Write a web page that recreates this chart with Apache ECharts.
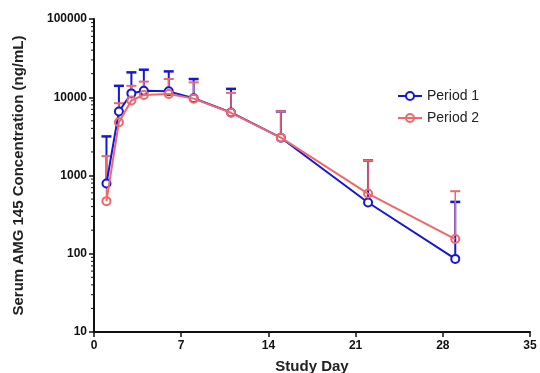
<!DOCTYPE html>
<html><head><meta charset="utf-8">
<script src="https://cdn.jsdelivr.net/npm/echarts@6/dist/echarts.min.js"></script>
<style>html,body{margin:0;padding:0;background:#fff}#c{width:540px;height:373px}</style>
</head><body><div id="c"></div>
<script>
const days = [1, 2, 3, 4, 6, 8, 11, 15, 22, 29];
const p1Mean = [790, 6570, 11200, 12100, 11900, 9700, 6400, 3040, 452, 86];
const p1Upper = [3160, 14000, 20800, 22500, 21400, 17100, 12800, 6600, 1560, 460];
const p2Mean = [470, 4800, 9080, 10700, 11000, 9600, 6330, 3040, 588, 154];
const p2Upper = [1770, 8390, 14000, 15850, 17100, 15500, 11370, 6640, 1563, 630];
const xTicks = [0, 7, 14, 21, 28, 35];
const yMinorVals = [20,30,40,50,60,70,80,90,200,300,400,500,600,700,800,900,2000,3000,4000,5000,6000,7000,8000,9000,20000,30000,40000,50000,60000,70000,80000,90000];

const blue = '#1616d8';
const red = '#f06868';
const font = 'Liberation Sans, Arial, sans-serif';

function errData(m, u) { return days.map((d, i) => [d, m[i], u[i]]); }
function errSeries(name, m, u, color, w) {
  return {
    type: 'custom', name: name + ' err', silent: true, z: 3,
    data: errData(m, u),
    renderItem: function (params, api) {
      const p = api.coord([api.value(0), api.value(1)]);
      const q = api.coord([api.value(0), api.value(2)]);
      return {
        type: 'group', children: [
          { type: 'line', shape: { x1: p[0], y1: p[1] - 4, x2: q[0], y2: q[1] }, style: { stroke: color, lineWidth: w } },
          { type: 'line', shape: { x1: q[0] - 5, y1: q[1], x2: q[0] + 5, y2: q[1] }, style: { stroke: color, lineWidth: w + 0.5 } }
        ]
      };
    }
  };
}

const chart = echarts.init(document.getElementById('c'));
chart.setOption({
  animation: false,
  grid: { left: 94, right: 10, top: 19, bottom: 41, containLabel: false, outerBoundsMode: 'none' },
  legend: {
    left: 392, top: 84, orient: 'vertical', itemGap: 8, itemWidth: 24, itemHeight: 10,
    textStyle: { fontFamily: font, fontSize: 14, color: '#222' },
    data: ['Period 1', 'Period 2']
  },
  xAxis: {
    type: 'value', min: 0, max: 35, interval: 7,
    name: 'Study Day', nameLocation: 'middle', nameGap: 27,
    nameTextStyle: { fontFamily: font, fontSize: 15, fontWeight: 'bold', color: '#222' },
    axisLine: { onZero: false, lineStyle: { color: '#111', width: 2 } },
    axisTick: { length: 5, lineStyle: { color: '#111', width: 1.5 } },
    axisLabel: { fontFamily: font, fontSize: 12, fontWeight: 'bold', color: '#111', margin: 8,
      customValues: xTicks },
    splitLine: { show: false }
  },
  yAxis: {
    type: 'log', logBase: 10, min: 10, max: 100000,
    name: 'Serum AMG 145 Concentration (ng/mL)', nameLocation: 'middle', nameGap: 68, nameRotate: 90,
    nameTextStyle: { fontFamily: font, fontSize: 15, fontWeight: 'bold', color: '#222' },
    axisLine: { show: true, lineStyle: { color: '#111', width: 2 } },
    axisTick: { show: true, length: 5, lineStyle: { color: '#111', width: 1.5 } },
    axisLabel: { fontFamily: font, fontSize: 12, fontWeight: 'bold', color: '#111', margin: 7,
      formatter: v => String(Math.round(v)) },
    splitLine: { show: false }
  },
  series: [
    {
      type: 'custom', name: 'minor', silent: true, z: 1,
      data: yMinorVals.map(v => [0, v]),
      renderItem: function (params, api) {
        const p = api.coord([api.value(0), api.value(1)]);
        return { type: 'line', shape: { x1: p[0] - 3, y1: p[1], x2: p[0], y2: p[1] }, style: { stroke: '#111', lineWidth: 1 } };
      }
    },
    errSeries('Period 1', p1Mean, p1Upper, blue, 2),
    {
      name: 'Period 1', type: 'line', z: 4,
      data: days.map((d, i) => [d, p1Mean[i]]),
      symbol: 'circle', symbolSize: 8,
      lineStyle: { color: blue, width: 2 },
      itemStyle: { color: '#fff', borderColor: blue, borderWidth: 2 }
    },
    errSeries('Period 2', p2Mean, p2Upper, red, 1.5),
    {
      name: 'Period 2', type: 'line', z: 5,
      data: days.map((d, i) => [d, p2Mean[i]]),
      symbol: 'circle', symbolSize: 8,
      lineStyle: { color: red, width: 2 },
      itemStyle: { color: 'rgba(255,255,255,0)', borderColor: red, borderWidth: 2 }
    }
  ]
});
</script>
</body></html>
